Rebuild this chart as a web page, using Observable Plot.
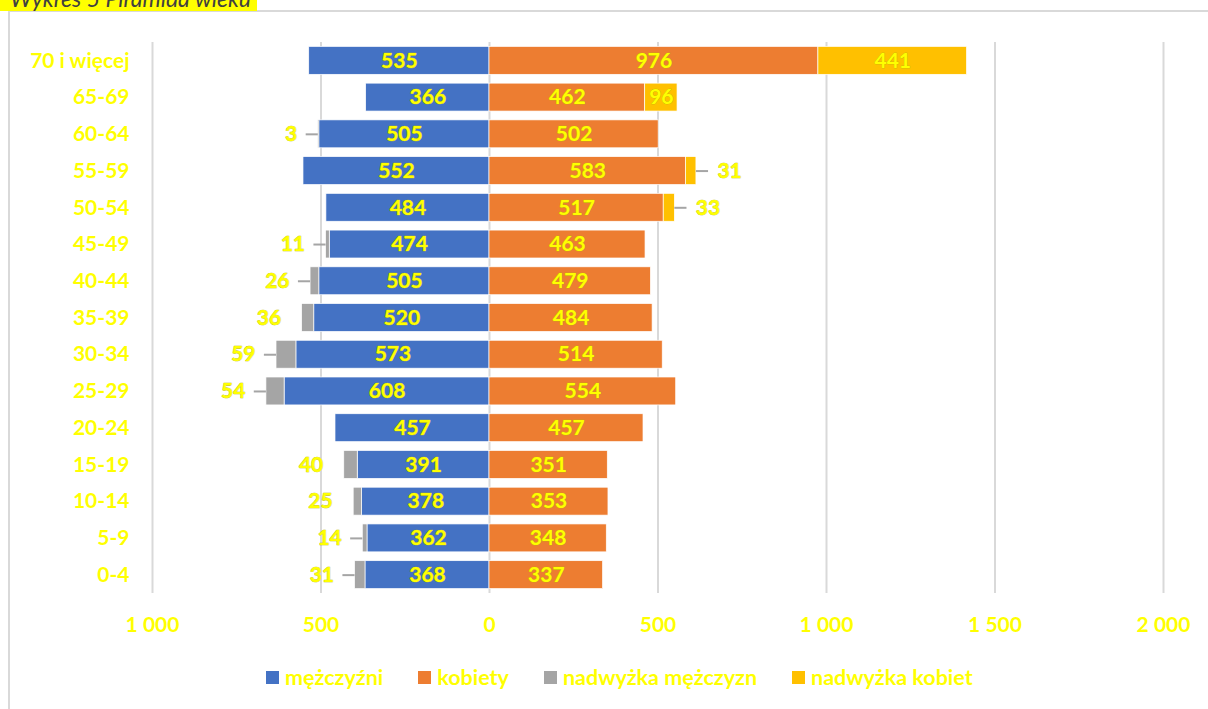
<!DOCTYPE html>
<html><head><meta charset="utf-8">
<script src="https://cdn.jsdelivr.net/npm/d3@7"></script>
<script src="https://cdn.jsdelivr.net/npm/@observablehq/plot@0.6"></script>
<style>
body{margin:0;background:#fff;font-family:Lato,sans-serif;}
#wrap{position:relative;width:1208px;height:709px;overflow:hidden;background:#fff;}
#title{position:absolute;left:0;top:-15px;background:#ffff00;font-style:italic;font-size:23px;color:#404040;padding:0 6px 0 10px;line-height:26px;white-space:nowrap;}
#frame{position:absolute;left:8px;top:10px;width:1300px;height:800px;border:2px solid #d9d9d9;box-sizing:border-box;}
#chart{position:absolute;left:0;top:0;}
#legend{position:absolute;top:664px;left:266px;display:flex;gap:35px;font-size:21.5px;font-weight:bold;color:#ffff00;align-items:center;}
#legend .it{display:flex;align-items:center;gap:6px;}
#legend .sw{width:13px;height:13px;display:inline-block;}
</style></head>
<body>
<div id="wrap">
  <div id="frame"></div>
  <div id="title">Wykres 5 Piramida wieku</div>
  <div id="chart"></div>
  <div id="legend"></div>
</div>
<script>
const categories = ["70 i więcej","65-69","60-64","55-59","50-54","45-49","40-44","35-39","30-34","25-29","20-24","15-19","10-14","5-9","0-4"];
const men         = [535,366,505,552,484,474,505,520,573,608,457,391,378,362,368];
const women       = [976,462,502,583,517,463,479,484,514,554,457,351,353,348,337];
const menExcess   = [0,0,3,0,0,11,26,36,59,54,0,40,25,14,31];
const womenExcess = [441,96,0,31,33,0,0,0,0,0,0,0,0,0,0];
const menLeader   = ["60-64","45-49","40-44","30-34","25-29","5-9","0-4"];
const xTicks = [-1000,-500,0,500,1000,1500,2000];
const seriesNames = ["mężczyźni","kobiety","nadwyżka mężczyzn","nadwyżka kobiet"];
const seriesColors = ["#4472C4","#ED7D31","#A5A5A5","#FFC000"];

const rows = categories.map((c,i)=>({cat:c,m:men[i],w:women[i],mg:menExcess[i],wg:womenExcess[i]}));
const mEx = rows.filter(d=>d.mg>0);
const wEx = rows.filter(d=>d.wg>0);
const wIn = wEx.filter(d=>d.wg>=50);
const wOut = wEx.filter(d=>d.wg<50);
const mLead = mEx.filter(d=>menLeader.includes(d.cat));

const fmt = d => String(Math.abs(d)).replace(/\B(?=(\d{3})+(?!\d))/g," ");
const lab = {fill:"#ffff00", stroke:"#b8b800", strokeWidth:0.6, fontSize:21, fontWeight:"bold"};
const leadLen = 36;

const chart = Plot.plot({
  width:1208, height:650,
  marginTop:42, marginBottom:57, marginLeft:152, marginRight:45,
  style:{fontFamily:"Lato, sans-serif", fontSize:"21px", fontWeight:"bold", color:"#ffff00", background:"transparent"},
  x:{domain:[-1000,2000], label:null},
  y:{domain:categories, paddingInner:0.24, paddingOuter:0.12, round:false, label:null},
  marks:[
    Plot.gridX(xTicks,{stroke:"#d9d9d9", strokeOpacity:1, strokeWidth:2}),
    Plot.barX(rows,{y:"cat", x1:d=>-d.m, x2:0, fill:seriesColors[0], stroke:"#fff", strokeWidth:0.7}),
    Plot.barX(mEx,{y:"cat", x1:d=>-(d.m+d.mg), x2:d=>-d.m, fill:seriesColors[2], stroke:"#fff", strokeWidth:0.7}),
    Plot.barX(rows,{y:"cat", x1:0, x2:d=>d.w, fill:seriesColors[1], stroke:"#fff", strokeWidth:0.7}),
    Plot.barX(wEx,{y:"cat", x1:d=>d.w, x2:d=>d.w+d.wg, fill:seriesColors[3], stroke:"#fff", strokeWidth:0.7}),
    Plot.ruleY(mLead,{y:"cat", x1:d=>-(d.m+d.mg), x2:d=>-(d.m+d.mg)-leadLen, stroke:"#a5a5a5", strokeWidth:2}),
    Plot.ruleY(wOut,{y:"cat", x1:d=>d.w+d.wg, x2:d=>d.w+d.wg+leadLen, stroke:"#a5a5a5", strokeWidth:2}),
    Plot.text(rows,{y:"cat", x:d=>-d.m/2, text:d=>d.m, ...lab}),
    Plot.text(rows,{y:"cat", x:d=>d.w/2, text:d=>d.w, ...lab}),
    Plot.text(wIn,{y:"cat", x:d=>d.w+d.wg/2, text:d=>d.wg, ...lab}),
    Plot.text(wOut,{y:"cat", x:d=>d.w+d.wg, text:d=>d.wg, textAnchor:"start", dx:21, ...lab}),
    Plot.text(mEx,{y:"cat", x:d=>-(d.m+d.mg), text:d=>d.mg, textAnchor:"end", dx:-21, ...lab}),
    Plot.axisY({tickSize:0, tickPadding:23, label:null}),
    Plot.axisX({ticks:xTicks, tickSize:0, tickPadding:24, tickFormat:fmt, label:null})
  ]
});
document.getElementById("chart").appendChild(chart);

const lg = document.getElementById("legend");
seriesNames.forEach((n,i)=>{
  const it = document.createElement("div"); it.className="it";
  const sw = document.createElement("span"); sw.className="sw"; sw.style.background=seriesColors[i];
  const t = document.createElement("span"); t.textContent=n;
  it.appendChild(sw); it.appendChild(t); lg.appendChild(it);
});
</script>
</body></html>
